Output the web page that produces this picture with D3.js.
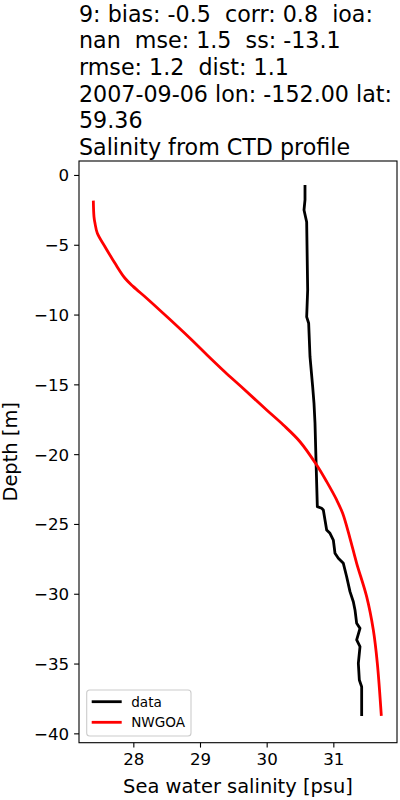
<!DOCTYPE html>
<html>
<head>
<meta charset="utf-8">
<script src="https://cdn.jsdelivr.net/npm/d3@7"></script>
<style>
  body { margin: 0; background: #fff; }
  svg text { font-family: "DejaVu Sans", sans-serif; fill: #000; white-space: pre; }
</style>
</head>
<body>
<div id="chart"></div>
<script>
// title lines
var titleLines = [
    "9: bias: -0.5  corr: 0.8  ioa:",
    "nan  mse: 1.5  ss: -13.1",
    "rmse: 1.2  dist: 1.1",
    "2007-09-06 lon: -152.00 lat:",
    "59.36",
    "Salinity from CTD profile"
];

// observed CTD profile (black)
var dataSalinity = [30.575, 30.575, 30.56, 30.60, 30.615, 30.60, 30.63, 30.65, 30.69, 30.71, 30.725, 30.74,
    30.76, 30.825, 30.85, 30.875, 30.90, 30.95, 31.0, 31.025, 31.075, 31.15, 31.20, 31.25, 31.30,
    31.325, 31.35, 31.40, 31.35, 31.40, 31.375, 31.39, 31.425, 31.425];
var dataDepth = [-0.72, -1.79, -2.51, -3.37, -8.24, -10.17, -10.62, -13.02, -15.17, -16.36, -17.79, -20.42,
    -23.76, -23.88, -24.0, -24.72, -25.43, -25.67, -26.15, -27.1, -27.46, -27.82, -28.78, -29.85, -30.57,
    -31.16, -32.12, -32.48, -33.31, -33.79, -34.98, -36.18, -36.66, -38.75];

// NWGOA model profile (red)
var modelSalinity = [27.40, 27.41, 27.425, 27.46, 27.575, 27.725, 27.875, 28.0, 28.2, 28.53, 28.85, 29.08, 29.37, 29.62,
    30.0, 30.25, 30.5, 30.75, 30.9, 31.05, 31.14, 31.25, 31.35, 31.5, 31.6, 31.66, 31.72];
var modelDepth = [-1.84, -3.0, -3.46, -4.18, -5.14, -6.33, -7.40, -8.0, -8.83, -10.27, -11.70, -12.77, -14.09, -15.17,
    -16.84, -17.91, -19.11, -20.78, -21.97, -23.28, -24.24, -26.03, -27.82, -30.21, -32.6, -34.98, -38.75];

var xTicks = [28, 29, 30, 31];
var yTicks = [0, -5, -10, -15, -20, -25, -30, -35, -40];
var seriesNames = ["data", "NWGOA"];

var width = 400, height = 800;
var margin = { top: 161, right: 3, bottom: 57.3, left: 79 };
var plotW = width - margin.left - margin.right,
    plotH = height - margin.top - margin.bottom;

var svg = d3.select("#chart").append("svg")
    .attr("width", width)
    .attr("height", height);

var xScale = d3.scaleLinear()
    .domain([27.185, 31.955])
    .range([0, plotW]);

var yScale = d3.scaleLinear()
    .domain([-40.67, 1.0])
    .range([plotH, 0]);

var minus = function (v) { return d3.format("d")(v).replace("-", "\u2212"); };

var g = svg.append("g")
    .attr("transform", "translate(" + margin.left + "," + margin.top + ")");

// lines
var dataLine = d3.line()
    .x(function (d) { return xScale(d[0]); })
    .y(function (d) { return yScale(d[1]); });

var modelLine = d3.line()
    .x(function (d) { return xScale(d[0]); })
    .y(function (d) { return yScale(d[1]); })
    .curve(d3.curveCatmullRom.alpha(0.5));

g.append("path")
    .datum(d3.zip(dataSalinity, dataDepth))
    .attr("d", dataLine)
    .attr("fill", "none")
    .attr("stroke", "#000")
    .attr("stroke-width", 2.8)
    .attr("stroke-linejoin", "round");

g.append("path")
    .datum(d3.zip(modelSalinity, modelDepth))
    .attr("d", modelLine)
    .attr("fill", "none")
    .attr("stroke", "#ff0000")
    .attr("stroke-width", 2.8)
    .attr("stroke-linejoin", "round");

// axes
var xAxis = d3.axisBottom(xScale)
    .tickValues(xTicks)
    .tickFormat(minus)
    .tickSize(4.9)
    .tickPadding(4.9);

var yAxis = d3.axisLeft(yScale)
    .tickValues(yTicks)
    .tickFormat(minus)
    .tickSize(4.9)
    .tickPadding(4.9);

var xg = g.append("g")
    .attr("transform", "translate(0," + plotH + ")")
    .call(xAxis);

var yg = g.append("g")
    .call(yAxis);

[xg, yg].forEach(function (ax) {
    ax.select(".domain").remove();
    ax.selectAll(".tick line").attr("stroke", "#000").attr("stroke-width", 1.1);
    ax.selectAll(".tick text")
        .style("font-family", "DejaVu Sans")
        .style("font-size", "16.67px")
        .attr("fill", "#000");
});
xg.selectAll(".tick text").attr("dy", "0.76em");
yg.selectAll(".tick text").attr("dy", "0.36em");

// frame
g.append("rect")
    .attr("width", plotW)
    .attr("height", plotH)
    .attr("fill", "none")
    .attr("stroke", "#000")
    .attr("stroke-width", 1.1);

// axis labels
svg.append("text")
    .attr("x", margin.left + plotW / 2)
    .attr("y", 793)
    .attr("text-anchor", "middle")
    .style("font-size", "19.44px")
    .text("Sea water salinity [psu]");

svg.append("text")
    .attr("transform", "translate(17," + (margin.top + plotH / 2) + ") rotate(-90)")
    .attr("text-anchor", "middle")
    .style("font-size", "19.44px")
    .text("Depth [m]");

// title
svg.append("g").selectAll("text")
    .data(titleLines)
    .enter()
    .append("text")
    .attr("xml:space", "preserve")
    .attr("x", margin.left)
    .attr("y", function (d, i) { return 21.7 + i * 26.67; })
    .style("font-size", "22.2px")
    .text(function (d) { return d; });

// legend
var legend = g.append("g")
    .attr("transform", "translate(7.7," + (690 - margin.top) + ")");

legend.append("rect")
    .attr("width", 104.3)
    .attr("height", 46)
    .attr("rx", 3)
    .attr("fill", "#fff")
    .attr("fill-opacity", 0.8)
    .attr("stroke", "#cccccc")
    .attr("stroke-width", 1.1);

var legendColors = ["#000", "#ff0000"];
seriesNames.forEach(function (name, i) {
    var y = 11.7 + i * 20.6;
    legend.append("line")
        .attr("x1", 5).attr("x2", 35)
        .attr("y1", y).attr("y2", y)
        .attr("stroke", legendColors[i])
        .attr("stroke-width", 2.8);
    legend.append("text")
        .attr("x", 44.5)
        .attr("y", y)
        .attr("dy", "0.36em")
        .style("font-size", "13.6px")
        .text(name);
});
</script>
</body>
</html>
